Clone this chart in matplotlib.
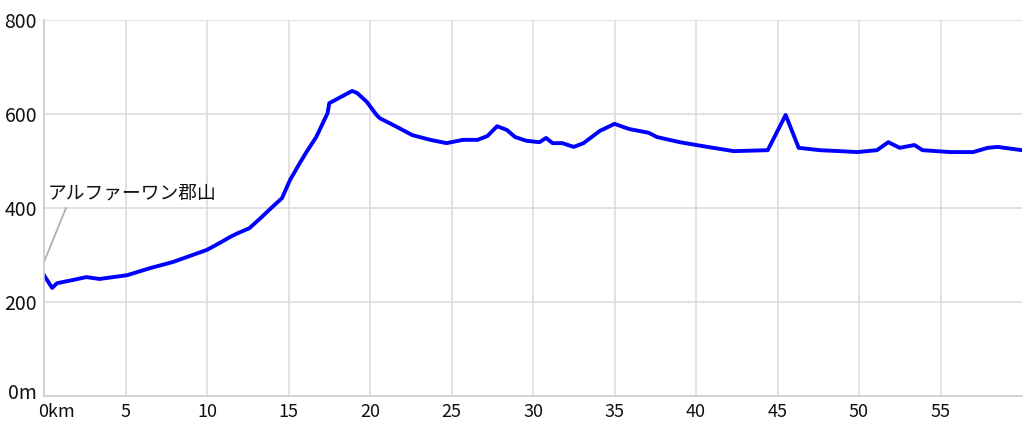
import matplotlib
matplotlib.use("Agg")
import matplotlib.pyplot as plt
import matplotlib.transforms as mtransforms

plt.rcParams['font.family'] = ['Noto Sans CJK JP', 'DejaVu Sans']

# distance (km) and elevation (m)
dist_km = [0.0, 0.5, 0.8, 1.8, 2.6, 3.4, 5.1, 6.5, 7.9, 9.6, 10.0, 10.8, 11.4,
           11.8, 12.6, 13.3, 14.0, 14.6, 15.1, 15.7, 16.1, 16.7, 17.4, 17.5,
           18.9, 19.2, 19.8, 20.4, 20.6, 21.4, 22.6, 23.7, 24.7, 25.7, 26.6,
           27.2, 27.8, 28.4, 28.9, 29.6, 30.4, 30.8, 31.2, 31.8, 32.5, 33.1,
           34.1, 35.0, 35.9, 37.1, 37.6, 39.0, 40.7, 42.3, 44.4, 45.5, 46.3,
           47.6, 48.8, 49.9, 51.1, 51.8, 52.5, 53.4, 53.9, 55.6, 57.0, 57.9,
           58.5, 60.0]
elev_m = [257, 230, 240, 247, 253, 249, 257, 272, 285, 306, 311, 326, 338,
          345, 357, 379, 402, 421, 460, 496, 519, 551, 602, 623,
          649, 645, 626, 598, 591, 577, 555, 545, 538, 545, 545,
          553, 574, 566, 551, 543, 540, 549, 538, 538, 530, 538,
          564, 579, 568, 560, 551, 540, 530, 521, 523, 598, 528,
          523, 521, 519, 523, 540, 528, 534, 523, 519, 519, 528,
          530, 523]

x_ticks = [0, 5, 10, 15, 20, 25, 30, 35, 40, 45, 50, 55]
x_labels = ["0km", "5", "10", "15", "20", "25", "30", "35", "40", "45", "50", "55"]
y_ticks = [0, 200, 400, 600, 800]
y_labels = ["0m", "200", "400", "600", "800"]

start_name = "アルファーワン郡山"
leader_x = [0, 1.35]
leader_y = [285, 400]

fig = plt.figure(figsize=(10.24, 4.30), dpi=100)
ax = fig.add_axes([44 / 1024, 34 / 430, 978 / 1024, 376 / 430])

ax.plot(dist_km, elev_m, color="#0000ff", linewidth=2.8, solid_joinstyle="round")

ax.set_xlim(0, 60)
ax.set_ylim(0, 800)
ax.set_xticks(x_ticks)
ax.set_xticklabels(x_labels)
ax.set_yticks(y_ticks)
ax.set_yticklabels(y_labels)
ax.tick_params(length=0, colors="#111111")
ax.tick_params(axis="x", pad=5, labelsize=13)
ax.tick_params(axis="y", pad=5, labelsize=14)

ax.grid(True, color="#dddddd", linewidth=1.2)
ax.set_axisbelow(True)
for side in ["top", "right"]:
    ax.spines[side].set_visible(False)
for side in ["left", "bottom"]:
    ax.spines[side].set_color("#cccccc")
    ax.spines[side].set_linewidth(1.2)

# first x label sits with its "0" on the tick
lbl = ax.get_xticklabels()[0]
lbl.set_horizontalalignment("left")
lbl.set_transform(lbl.get_transform() + mtransforms.ScaledTranslation(-6 / 100, 0, fig.dpi_scale_trans))
ylbl = ax.get_yticklabels()[0]
ylbl.set_transform(ylbl.get_transform() + mtransforms.ScaledTranslation(0, 5 / 100, fig.dpi_scale_trans))

# start marker label with leader line
ax.plot(leader_x, leader_y, color="#aaaaaa", linewidth=1.2, clip_on=False)
ax.text(0.25, 432, start_name, fontsize=13.5, color="#111111", ha="left", va="center")

fig.savefig("out.png", dpi=100)
